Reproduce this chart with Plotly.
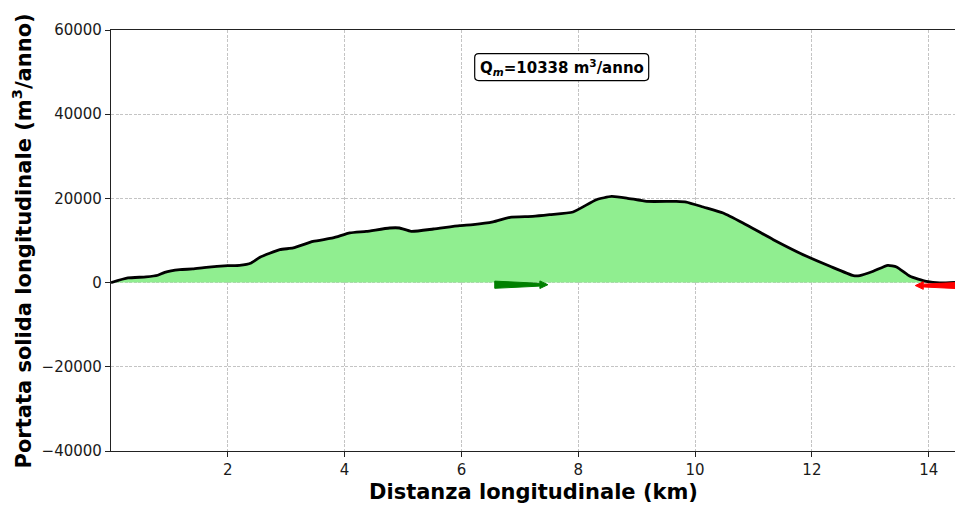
import plotly.graph_objects as go

# Longitudinal sediment transport along the coast
distanza_km = [0.0, 0.29, 0.6, 0.8, 0.92, 1.18, 1.4, 1.63, 2.0, 2.2, 2.4, 2.55, 2.89, 3.12,
               3.46, 3.8, 4.09, 4.37, 4.77, 4.94, 5.14, 5.52, 5.97, 6.2, 6.54, 6.83, 7.22,
               7.51, 7.91, 8.31, 8.57, 8.83, 9.17, 9.68, 9.85, 10.14, 10.48, 10.82, 11.34,
               11.91, 12.31, 12.71, 12.82, 13.05, 13.3, 13.45, 13.68, 13.96, 14.19, 14.45]
portata = [0, 1100, 1350, 1740, 2450, 3080, 3240, 3640, 4030, 4110, 4670, 6010, 7830, 8230,
           9800, 10600, 11800, 12170, 12970, 12970, 12170, 12730, 13520, 13760, 14400, 15500,
           15730, 16130, 16770, 19690, 20470, 20090, 19290, 19290, 19140, 17950, 16530, 14160,
           10200, 6240, 3870, 1660, 1660, 2690, 4110, 3720, 1500, 310, -70, 70]
q_medio = 10338

x_ticks = [2, 4, 6, 8, 10, 12, 14]
y_ticks = [-40000, -20000, 0, 20000, 40000, 60000]
y_ticktext = ["\u221240000", "\u221220000", "0", "20000", "40000", "60000"]

# transport direction arrows: (tail km, head km, level)
freccia_pos = [6.57, 7.48, -500]
freccia_neg = [14.68, 13.77, -700]

X_RANGE = [0.0, 14.45]
Y_RANGE = [-40000, 60000]
W, H = 955, 506
ML, MR, MT, MB = 111, 0, 30, 55
px_x = (W - ML - MR) / (X_RANGE[1] - X_RANGE[0])   # pixels per km
px_y = (H - MT - MB) / (Y_RANGE[1] - Y_RANGE[0])   # pixels per unit


def fancy_arrow(tail, head, level, tail_hw=3.6, neck_hw=1.4, head_hw=3.8, head_len=8):
    """Tapered arrow path (widths in pixels) in data coordinates."""
    d = 1 if head > tail else -1
    hl = head_len / px_x
    base = head - d * hl
    ty = tail_hw / px_y
    ny = neck_hw / px_y
    hy = head_hw / px_y
    pts = [(tail, level + ty), (base, level + ny), (base, level + hy), (head, level),
           (base, level - hy), (base, level - ny), (tail, level - ty)]
    return "M " + " L ".join(f"{x},{y}" for x, y in pts) + " Z"


fig = go.Figure()
fig.add_trace(go.Scatter(
    x=distanza_km, y=portata, mode="lines",
    line=dict(color="black", width=2.8, shape="spline", smoothing=0.5),
    fill="tozeroy", fillcolor="#90ee90", hoverinfo="skip", showlegend=False,
))

fig.add_shape(type="path", xref="x", yref="y", path=fancy_arrow(*freccia_pos),
              fillcolor="#008000", line=dict(color="#008000", width=1))
fig.add_shape(type="path", xref="x", yref="y", path=fancy_arrow(*freccia_neg),
              fillcolor="#ff0000", line=dict(color="#ff0000", width=1))

# rounded box for the mean transport label
bx, by = 0.534, 0.912
hw, hh, r = 87, 13.5, 4
box = (f"M {-hw + r},{-hh} L {hw - r},{-hh} Q {hw},{-hh} {hw},{-hh + r} "
       f"L {hw},{hh - r} Q {hw},{hh} {hw - r},{hh} L {-hw + r},{hh} "
       f"Q {-hw},{hh} {-hw},{hh - r} L {-hw},{-hh + r} Q {-hw},{-hh} {-hw + r},{-hh} Z")
fig.add_shape(type="path", xref="paper", yref="paper", xsizemode="pixel", ysizemode="pixel",
              xanchor=bx, yanchor=by, path=box, fillcolor="white",
              line=dict(color="black", width=1.2))
fig.add_annotation(
    x=bx, y=by, xref="paper", yref="paper", showarrow=False,
    xanchor="center", yanchor="middle",
    text=f"<b>Q<sub><i>m</i></sub>={q_medio} m<sup>3</sup>/anno</b>",
    font=dict(family="DejaVu Sans", size=15, color="black"),
)

fig.add_annotation(
    x=0.5, y=-0.0974, xref="paper", yref="paper", showarrow=False,
    text="<b>Distanza longitudinale (km)</b>",
    font=dict(family="DejaVu Sans", size=21, color="black"),
    xanchor="center", yanchor="middle",
)
fig.add_annotation(
    x=-0.1055, y=0.5, xref="paper", yref="paper", showarrow=False, textangle=-90,
    text="<b>Portata solida longitudinale (m<sup>3</sup>/anno)</b>",
    font=dict(family="DejaVu Sans", size=21, color="black"),
    xanchor="center", yanchor="middle",
)

axis_common = dict(
    showgrid=True, gridcolor="#c4c4c4", griddash="3px,1.5px", gridwidth=1,
    zeroline=False, showline=True, linecolor="#222222", linewidth=1.2,
    ticks="outside", ticklen=5, tickwidth=1.2, tickcolor="#222222",
    tickfont=dict(family="DejaVu Sans", size=15, color="#1a1a1a"),
)
fig.update_xaxes(range=X_RANGE, tickvals=x_ticks, mirror=True, **axis_common)
fig.update_yaxes(range=Y_RANGE, tickvals=y_ticks, ticktext=y_ticktext, **axis_common)

fig.update_layout(
    width=W, height=H, margin=dict(l=ML, r=MR, t=MT, b=MB),
    plot_bgcolor="white", paper_bgcolor="white",
    font=dict(family="DejaVu Sans"),
)

fig.write_html("out.html")
